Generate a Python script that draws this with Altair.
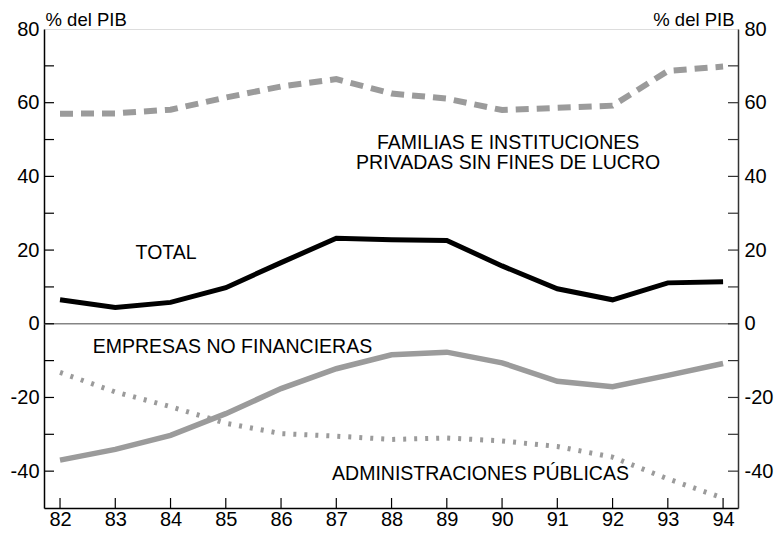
import altair as alt
import pandas as pd

years = [82, 83, 84, 85, 86, 87, 88, 89, 90, 91, 92, 93, 94]
total = [6.5, 4.4, 5.8, 9.8, 16.6, 23.2, 22.8, 22.6, 15.7, 9.5, 6.5, 11.1, 11.4]
familias = [57.0, 57.1, 58.1, 61.4, 64.4, 66.4, 62.5, 61.1, 58.0, 58.6, 59.2, 68.6, 69.8]
empresas = [-37.0, -34.1, -30.3, -24.4, -17.6, -12.2, -8.4, -7.7, -10.6, -15.6, -17.1, -14.0, -10.8]
admin = [-13.2, -18.5, -22.5, -27.0, -29.8, -30.5, -31.4, -31.0, -31.8, -33.3, -36.2, -42.1, -47.3]

y_ticks = [-40, -30, -20, -10, 0, 10, 20, 30, 40, 50, 60, 70]
y_labels = [-40, -20, 0, 20, 40, 60, 80]

ann_labels = ["FAMILIAS E INSTITUCIONES", "PRIVADAS SIN FINES DE LUCRO", "TOTAL",
              "EMPRESAS NO FINANCIERAS", "ADMINISTRACIONES PÚBLICAS"]
ann_x = [90.11, 90.11, 83.92, 85.12, 89.61]
ann_y = [49.1, 43.7, 19.1, -6.4, -40.8]

FONT = "Liberation Sans"
GRAY = "#9b9b9b"
W, H = 694, 479
XD = [81.71, 94.27]
YD = [-50, 80]

rows = []
for name, vals in [("total", total), ("familias", familias), ("empresas", empresas), ("admin", admin)]:
    for yr, v in zip(years, vals):
        rows.append({"year": yr, "value": v, "series": name})
df = pd.DataFrame(rows)

xs = alt.Scale(domain=XD, nice=False, zero=False)
ys = alt.Scale(domain=YD, nice=False, zero=False)

YLABEL = "datum.value < 0 ? '-' + abs(datum.value) : '' + datum.value"

xaxis = alt.Axis(values=years, format="d", tickSize=0, labelPadding=1, labelFontSize=20,
                 labelFont=FONT, labelColor="black", domainColor="black", domainWidth=1.5,
                 grid=False, title=None, labelBaseline="top")
yaxis_left = alt.Axis(values=y_labels, labelExpr=YLABEL, tickSize=0, labelPadding=5,
                      labelFontSize=20, labelFont=FONT, labelColor="black",
                      domainColor="black", domainWidth=1.5,
                      grid=False, title="% del PIB", titleAngle=0, titleAlign="left",
                      titleBaseline="bottom", titleX=1, titleY=0, titleFontSize=18.5,
                      titleFontWeight="normal", titleFont=FONT, titleColor="black")
yaxis_right = alt.Axis(orient="right", values=y_labels, labelExpr=YLABEL, tickSize=0,
                       labelPadding=6, labelFontSize=20, labelFont=FONT, labelColor="black",
                       domainColor="#333333", domainWidth=1.5, grid=False,
                       title="% del PIB", titleAngle=0, titleAlign="right",
                       titleBaseline="bottom", titleX=-4, titleY=0, titleFontSize=18.5,
                       titleFontWeight="normal", titleFont=FONT, titleColor="black")

base = alt.Chart(df)

zero = alt.Chart(pd.DataFrame({"v": [0]})).mark_rule(color="#858585", strokeWidth=1.5).encode(
    y=alt.Y("v:Q", scale=ys, axis=yaxis_left)
)

def line(name, **kw):
    return base.transform_filter(alt.datum.series == name).mark_line(**kw).encode(
        x=alt.X("year:Q", scale=xs, axis=xaxis),
        y=alt.Y("value:Q", scale=ys, axis=yaxis_left),
    )

fam = line("familias", color=GRAY, strokeWidth=6, strokeDash=[13, 8], strokeCap="butt")
adm = line("admin", color=GRAY, strokeWidth=5, strokeDash=[3, 8], strokeCap="butt")
emp = line("empresas", color=GRAY, strokeWidth=5.5)
tot = line("total", color="black", strokeWidth=5)

tickdf = pd.DataFrame({"t": y_ticks})
left_ticks = alt.Chart(tickdf).mark_rule(color="black", strokeWidth=1.2).encode(
    y=alt.Y("t:Q", scale=ys, axis=yaxis_left),
    x=alt.value(0), x2=alt.value(10),
)
xticks = alt.Chart(pd.DataFrame({"yr": years})).mark_rule(color="black", strokeWidth=1.2).encode(
    x=alt.X("yr:Q", scale=xs, axis=xaxis),
    y=alt.value(H), y2=alt.value(H - 10),
)

anndf = pd.DataFrame({"x": ann_x, "y": ann_y, "label": ann_labels})
ann = alt.Chart(anndf).mark_text(font=FONT, fontSize=19.5, color="black",
                                 align="center", baseline="middle").encode(
    x=alt.X("x:Q", scale=xs, axis=xaxis),
    y=alt.Y("y:Q", scale=ys, axis=yaxis_left),
    text="label:N",
)

main = alt.layer(zero, fam, adm, emp, tot, left_ticks, xticks, ann)

right_ticks = alt.Chart(tickdf).mark_rule(color="#333333", strokeWidth=1.2).encode(
    y=alt.Y("t:Q", scale=ys, axis=yaxis_right),
    x=alt.value(W - 10), x2=alt.value(W),
)

chart = alt.layer(main, right_ticks).resolve_scale(y="independent").properties(
    width=W, height=H,
    autosize=alt.AutoSizeParams(type="none"),
    padding={"left": 36, "top": 21, "right": 36, "bottom": 24},
).configure_view(stroke=None).configure(background="white")

chart.save("out.html", embed_options={"renderer": "svg", "actions": False})
